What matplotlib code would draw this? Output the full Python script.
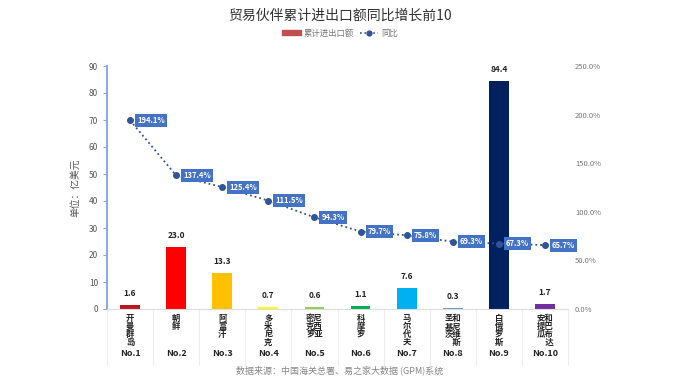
import matplotlib.pyplot as plt
import numpy as np
from matplotlib.lines import Line2D
from matplotlib.patches import Patch
from matplotlib.transforms import blended_transform_factory

plt.rcParams['font.family'] = ['Noto Sans CJK SC', 'DejaVu Sans']

# data
countries = [["开曼群岛"], ["朝鲜"], ["阿富汗"], ["多米尼克"], ["密克罗", "尼西亚"],
             ["科摩罗"], ["马尔代夫"], ["圣基茨", "和尼维斯"], ["白俄罗斯"], ["安提瓜", "和巴布达"]]
ranks = ["No.1", "No.2", "No.3", "No.4", "No.5", "No.6", "No.7", "No.8", "No.9", "No.10"]
trade = [1.6, 23.0, 13.3, 0.7, 0.6, 1.1, 7.6, 0.3, 84.4, 1.7]
yoy = [194.1, 137.4, 125.4, 111.5, 94.3, 79.7, 75.8, 69.3, 67.3, 65.7]
bar_colors = ["#C0141A", "#FF0000", "#FFC000", "#FFFF00", "#92D050",
              "#00B050", "#00B0F0", "#5B9BD5", "#002060", "#7030A0"]

def vertical(cols):
    n = max(len(c) for c in cols)
    lines = []
    for i in range(n):
        lines.append("".join(c[i] if i < len(c) else "\u3000" for c in cols))
    return "\n".join(lines)

fig = plt.figure(figsize=(6.8, 3.81), dpi=100)
ax = fig.add_axes([107/680, 1-309/381, 461/680, 243/381])
x = np.arange(len(trade))

ax.bar(x, trade, width=0.43, color=bar_colors, zorder=2)
for xi, v in zip(x, trade):
    ax.text(xi, v + 2.6, f"{v:.1f}", ha='center', va='bottom', fontsize=6,
            fontweight='bold', color='#222222')

ax.set_xlim(-0.5, len(trade) - 0.5)
ax.set_ylim(0, 90)
ax.set_yticks(np.arange(0, 91, 10))
ax.tick_params(axis='y', colors='#8EA9DB', labelcolor='#555555', labelsize=6, length=3)
ax.set_ylabel("单位：亿美元", fontsize=7, color='#555555', labelpad=6)
for s in ['top', 'right']:
    ax.spines[s].set_visible(False)
ax.spines['left'].set_color('#8EA9DB')
ax.spines['left'].set_linewidth(1.5)
ax.spines['bottom'].set_color('#DDDDDD')

ax.set_xticks(x)
ax.set_xticklabels([vertical(c) for c in countries], fontsize=6, fontweight='bold',
                   linespacing=0.86, va='top', color='#222222')
ax.tick_params(axis='x', length=0, pad=3.5)

tr = blended_transform_factory(ax.transData, ax.transAxes)
for xi, r in zip(x, ranks):
    ax.text(xi, -0.182, r, transform=tr, ha='center', va='center', fontsize=6.5,
            fontweight='bold', color='#222222')
for b in np.arange(-0.5, len(trade), 1.0):
    ax.plot([b, b], [0, -0.23], transform=tr, color='#EEEEEE', lw=0.8, clip_on=False)

ax2 = ax.twinx()
ax2.plot(x, yoy, linestyle=':', color='#2F5597', lw=1.3, marker='o', markersize=4, zorder=3)
for xi, v in zip(x, yoy):
    ax2.annotate(f"{v:.1f}%", (xi, v), xytext=(5, 0), textcoords='offset points',
                 ha='left', va='center', fontsize=5.5, fontweight='bold', color='white',
                 bbox=dict(boxstyle='square,pad=0.25', fc='#4472C4', ec='none'))
ax2.set_ylim(0, 250)
ax2.set_yticks(np.arange(0, 251, 50))
ax2.set_yticklabels([f"{t:.1f}%" for t in np.arange(0, 251, 50)])
ax2.tick_params(axis='y', length=0, labelsize=5.5, labelcolor='#777777', pad=5)
for s in ['top', 'right', 'left', 'bottom']:
    ax2.spines[s].set_visible(False)

fig.text(0.5, 0.958, "贸易伙伴累计进出口额同比增长前10", ha='center', va='center',
         fontsize=10, color='#333333')
handles = [Patch(color='#C0504D'),
           Line2D([], [], linestyle=':', color='#2F5597', marker='o', markersize=3.5, lw=1.2)]
fig.legend(handles, ["累计进出口额", "同比"], loc='center', bbox_to_anchor=(0.5, 0.913),
           ncol=2, frameon=False, fontsize=6, handlelength=2.2, handleheight=0.6,
           columnspacing=0.8, handletextpad=0.3, labelcolor='#777777')
fig.text(0.5, 0.028, "数据来源：中国海关总署、易之家大数据 (GPM)系统", ha='center', va='center',
         fontsize=6.5, color='#888888')

fig.savefig("out.png", dpi=100)
